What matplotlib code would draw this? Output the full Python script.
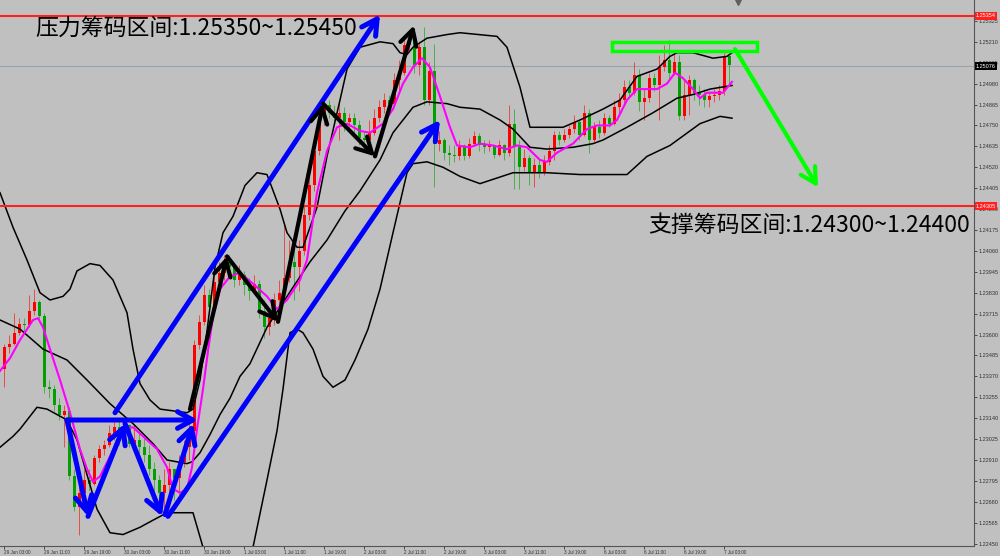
import matplotlib
matplotlib.use('Agg')
import matplotlib.pyplot as plt
from matplotlib.patches import Rectangle
from matplotlib.transforms import blended_transform_factory

plt.rcParams['font.family'] = ['Noto Sans CJK SC', 'DejaVu Sans']

# hourly candles, index 0 = 29 Jun 03:00
first_open = 1.2341
close = [1.2353, 1.2355, 1.2361, 1.2366, 1.2365, 1.2373, 1.2378, 1.2370, 1.2331, 1.2330,
         1.2321, 1.2316, 1.2318, 1.2282, 1.2265, 1.2273, 1.2280, 1.2278, 1.2292, 1.2297,
         1.2299, 1.2306, 1.2309, 1.2306, 1.2310, 1.2300, 1.2302, 1.2298, 1.2294, 1.2286,
         1.2280, 1.2273, 1.2277, 1.2286, 1.2281, 1.2290, 1.2298, 1.2307, 1.2354, 1.2367,
         1.2382, 1.2375, 1.2389, 1.2394, 1.2400, 1.2397, 1.2390, 1.2393, 1.2387, 1.2384,
         1.2388, 1.2373, 1.2364, 1.2369, 1.2379, 1.2383, 1.2391, 1.2400, 1.2397, 1.2406,
         1.2426, 1.2442, 1.2461, 1.2479, 1.2486, 1.2482, 1.2479, 1.2482, 1.2477, 1.2479,
         1.2475, 1.2468, 1.2467, 1.2471, 1.2479, 1.2485, 1.2489, 1.2487, 1.2500, 1.2504,
         1.2519, 1.2522, 1.2508, 1.2518, 1.2489, 1.2505, 1.2465, 1.2467, 1.2460, 1.2459,
         1.2458, 1.2463, 1.2458, 1.2465, 1.2469, 1.2464, 1.2463, 1.2464, 1.2459, 1.2464,
         1.2460, 1.2476, 1.2463, 1.2452, 1.2457, 1.2449, 1.2453, 1.2449, 1.2455, 1.2461,
         1.2470, 1.2467, 1.2470, 1.2473, 1.2477, 1.2470, 1.2482, 1.2467, 1.2474, 1.2471,
         1.2479, 1.2476, 1.2485, 1.2489, 1.2496, 1.2493, 1.2503, 1.2488, 1.2490, 1.2501,
         1.2497, 1.2507, 1.2511, 1.2504, 1.2510, 1.2480, 1.2492, 1.2500, 1.2493, 1.2492,
         1.2489, 1.2491, 1.2492, 1.2494, 1.2513, 1.2508]
high = [1.2355, 1.2360, 1.2372, 1.2369, 1.2369, 1.2382, 1.2385, 1.2379, 1.2372, 1.2335,
        1.2332, 1.2325, 1.2321, 1.2320, 1.2286, 1.2276, 1.2286, 1.2286, 1.2294, 1.2299,
        1.2302, 1.2310, 1.2313, 1.2313, 1.2314, 1.2311, 1.2310, 1.2306, 1.2303, 1.2299,
        1.2290, 1.2283, 1.2286, 1.2290, 1.2286, 1.2294, 1.2302, 1.2313, 1.2357, 1.2371,
        1.2387, 1.2385, 1.2395, 1.2400, 1.2404, 1.2404, 1.2400, 1.2398, 1.2395, 1.2391,
        1.2393, 1.2390, 1.2379, 1.2373, 1.2383, 1.2390, 1.2420, 1.2412, 1.2409, 1.2412,
        1.2431, 1.2448, 1.2467, 1.2486, 1.2490, 1.2489, 1.2486, 1.2488, 1.2485, 1.2482,
        1.2482, 1.2478, 1.2472, 1.2478, 1.2484, 1.2489, 1.2493, 1.2492, 1.2504, 1.2511,
        1.2525, 1.2527, 1.2523, 1.2521, 1.2529, 1.2510, 1.2520, 1.2472, 1.2468, 1.2464,
        1.2464, 1.2467, 1.2465, 1.2468, 1.2472, 1.2471, 1.2467, 1.2467, 1.2464, 1.2467,
        1.2465, 1.2486, 1.2484, 1.2467, 1.2462, 1.2459, 1.2457, 1.2456, 1.2459, 1.2464,
        1.2472, 1.2472, 1.2473, 1.2475, 1.2481, 1.2478, 1.2486, 1.2484, 1.2477, 1.2478,
        1.2482, 1.2481, 1.2489, 1.2493, 1.2500, 1.2500, 1.2510, 1.2506, 1.2495, 1.2504,
        1.2504, 1.2514, 1.2519, 1.2522, 1.2516, 1.2514, 1.2500, 1.2503, 1.2501, 1.2497,
        1.2495, 1.2493, 1.2495, 1.2497, 1.2515, 1.2514]
low = [1.2331, 1.2350, 1.2354, 1.2360, 1.2362, 1.2364, 1.2371, 1.2367, 1.2328, 1.2325,
       1.2318, 1.2313, 1.2298, 1.2280, 1.2263, 1.2250, 1.2272, 1.2274, 1.2277, 1.2290,
       1.2294, 1.2298, 1.2302, 1.2299, 1.2303, 1.2298, 1.2299, 1.2295, 1.2290, 1.2283,
       1.2274, 1.2269, 1.2261, 1.2269, 1.2269, 1.2272, 1.2287, 1.2291, 1.2306, 1.2352,
       1.2365, 1.2372, 1.2373, 1.2385, 1.2390, 1.2393, 1.2386, 1.2387, 1.2382, 1.2379,
       1.2383, 1.2369, 1.2358, 1.2360, 1.2365, 1.2373, 1.2379, 1.2389, 1.2379, 1.2384,
       1.2404, 1.2423, 1.2439, 1.2459, 1.2475, 1.2479, 1.2475, 1.2467, 1.2472, 1.2474,
       1.2470, 1.2464, 1.2461, 1.2464, 1.2470, 1.2477, 1.2482, 1.2484, 1.2486, 1.2494,
       1.2503, 1.2516, 1.2504, 1.2503, 1.2486, 1.2486, 1.2441, 1.2461, 1.2456, 1.2453,
       1.2455, 1.2456, 1.2456, 1.2457, 1.2464, 1.2461, 1.2460, 1.2461, 1.2457, 1.2458,
       1.2456, 1.2458, 1.2440, 1.2440, 1.2450, 1.2442, 1.2441, 1.2446, 1.2448, 1.2453,
       1.2456, 1.2464, 1.2466, 1.2468, 1.2471, 1.2467, 1.2469, 1.2460, 1.2466, 1.2468,
       1.2470, 1.2474, 1.2475, 1.2482, 1.2487, 1.2491, 1.2492, 1.2483, 1.2478, 1.2488,
       1.2494, 1.2478, 1.2505, 1.2500, 1.2503, 1.2478, 1.2478, 1.2481, 1.2489, 1.2486,
       1.2485, 1.2485, 1.2488, 1.2489, 1.2492, 1.2497]

# bollinger lines (bar index, price)
upper_x = [-0.8, 1.8, 4.6, 7.2, 9.2, 11.8, 13.2, 14.6, 17.2, 19.2, 21.8, 24.6, 25.8, 27.2, 29.2,
           31.2, 36.6, 37.8, 39.2, 40.6, 42.2, 43.8, 45.8, 48.2, 50.6, 52.6, 55.2, 56.6, 58.6,
           59.8, 62.6, 64.6, 67.2, 68.6, 71.2, 75.2, 77.8, 79.2, 80.6, 81.8, 84.6, 88.6, 91.2,
           98.6, 100.6, 103.2, 105.2, 111.8, 115.2, 119.8, 123.2, 126.6, 130.6, 133.2, 134.6,
           137.8, 141.8, 144.6, 145.6]
upper_y = [1.2438, 1.2419, 1.2401, 1.2383, 1.2379, 1.2381, 1.2385, 1.2395, 1.2399, 1.2398,
           1.2390, 1.2372, 1.2352, 1.2333, 1.2324, 1.2319, 1.2317, 1.2319, 1.2335, 1.2362,
           1.2397, 1.2416, 1.2425, 1.2442, 1.2449, 1.2448, 1.2429, 1.2416, 1.2408, 1.2408,
           1.2430, 1.2458, 1.2489, 1.2506, 1.2518, 1.2521, 1.2520, 1.2515, 1.2514, 1.2518,
           1.2523, 1.2525, 1.2526, 1.2524, 1.2518, 1.2496, 1.2474, 1.2474, 1.2478, 1.2484,
           1.2489, 1.2502, 1.2506, 1.2513, 1.2515, 1.2515, 1.2512, 1.2513, 1.2515]
mid_x = [-0.8, 3.2, 7.8, 12.6, 16.6, 21.2, 25.8, 29.8, 32.6, 36.6, 37.6, 39.2, 41.2, 43.2, 45.2,
         47.2, 49.2, 52.6, 55.2, 57.8, 61.2, 64.6, 68.2, 71.2, 75.2, 77.8, 81.8, 84.6, 88.6,
         91.2, 95.2, 99.2, 101.8, 105.2, 108.6, 113.8, 117.8, 119.8, 124.6, 129.8, 134.6,
         137.8, 141.2, 145.6]
mid_y = [1.2368, 1.2363, 1.2352, 1.2346, 1.2335, 1.2322, 1.2311, 1.2300, 1.2291, 1.2289,
         1.2290, 1.2295, 1.2305, 1.2316, 1.2325, 1.2337, 1.2344, 1.2364, 1.2375, 1.2386,
         1.2400, 1.2412, 1.2428, 1.2439, 1.2456, 1.2471, 1.2485, 1.2488, 1.2487, 1.2485,
         1.2484, 1.2478, 1.2473, 1.2463, 1.2462, 1.2463, 1.2465, 1.2467, 1.2474, 1.2482,
         1.2490, 1.2492, 1.2495, 1.2497]
lower_x = [-0.8, 1.8, 3.2, 6.6, 8.6, 12.6, 14.6, 16.6, 18.6, 21.2, 23.8, 27.2, 29.2, 32.6, 36.6,
           37.8, 39.8, 41.2, 45.2, 47.2, 49.8, 52.6, 54.6, 55.8, 57.2, 58.6, 59.8, 61.8, 63.8,
           65.8, 68.2, 70.2, 72.8, 75.2, 77.8, 80.6, 81.8, 84.6, 87.8, 91.2, 95.2, 101.8,
           108.6, 115.2, 124.6, 128.6, 133.2, 139.2, 143.2, 145.6]
lower_y = [1.2298, 1.2304, 1.2308, 1.2320, 1.2319, 1.2313, 1.2302, 1.2283, 1.2264, 1.2251,
           1.2250, 1.2254, 1.2257, 1.2262, 1.2262, 1.2262, 1.2243, 1.2231, 1.2225, 1.2236,
           1.2243, 1.2280, 1.2307, 1.2330, 1.2361, 1.2363, 1.2361, 1.2352, 1.2337, 1.2331,
           1.2335, 1.2346, 1.2363, 1.2385, 1.2416, 1.2449, 1.2454, 1.2455, 1.2452, 1.2447,
           1.2443, 1.2449, 1.2449, 1.2448, 1.2448, 1.2458, 1.2464, 1.2476, 1.2480, 1.2479]
ma_x = [-0.8, 1.2, 3.2, 5.8, 6.8, 7.8, 9.2, 11.2, 13.2, 15.2, 16.6, 17.8, 19.2, 21.2, 23.8, 25.8,
        27.8, 30.6, 32.6, 33.8, 35.2, 36.6, 37.6, 38.6, 39.8, 40.8, 41.8, 43.2, 45.2, 47.2,
        49.8, 52.6, 54.6, 56.6, 59.2, 60.6, 62.6, 64.6, 66.6, 68.6, 71.2, 73.2, 75.8, 77.8,
        79.8, 81.8, 83.6, 85.2, 87.2, 89.2, 90.6, 93.2, 95.2, 97.8, 100.6, 102.6, 104.6,
        107.2, 108.6, 110.6, 113.8, 116.6, 118.6, 121.2, 122.6, 124.6, 126.6, 130.6, 132.6,
        134.2, 135.8, 137.8, 139.2, 140.6, 142.6, 143.8, 145.6]
ma_y = [1.2340, 1.2347, 1.2357, 1.2368, 1.2369, 1.2364, 1.2352, 1.2335, 1.2317, 1.2297, 1.2286,
        1.2279, 1.2282, 1.2293, 1.2308, 1.2309, 1.2304, 1.2297, 1.2287, 1.2275, 1.2273, 1.2275,
        1.2287, 1.2308, 1.2330, 1.2351, 1.2370, 1.2385, 1.2392, 1.2394, 1.2388, 1.2381, 1.2374,
        1.2379, 1.2390, 1.2401, 1.2438, 1.2461, 1.2474, 1.2476, 1.2472, 1.2471, 1.2476, 1.2484,
        1.2498, 1.2507, 1.2512, 1.2507, 1.2491, 1.2474, 1.2464, 1.2463, 1.2465, 1.2464, 1.2462,
        1.2464, 1.2463, 1.2456, 1.2455, 1.2460, 1.2465, 1.2473, 1.2475, 1.2475, 1.2478, 1.2489,
        1.2495, 1.2495, 1.2498, 1.2504, 1.2501, 1.2495, 1.2490, 1.2493, 1.2493, 1.2493, 1.2499]

resist_line = 1.25354
support_line = 1.24305
last_price = 1.25076
y_ticks = [1.22450 + 0.00115 * k for k in range(26)]
x_tick_pos = list(range(0, 145, 8))
x_tick_labels = ['29 Jun 03:00', '29 Jun 11:00', '29 Jun 19:00', '30 Jun 03:00', '30 Jun 11:00',
                 '30 Jun 19:00', '1 Jul 03:00', '1 Jul 11:00', '1 Jul 19:00', '2 Jul 03:00',
                 '2 Jul 11:00', '2 Jul 19:00', '3 Jul 03:00', '3 Jul 11:00', '3 Jul 19:00',
                 '6 Jul 03:00', '6 Jul 11:00', '6 Jul 19:00', '7 Jul 03:00']
shift_mark = 146.8

# hand drawn arrows (start, end) in bar index / price
blue_arrows = [((22.2, 1.2317), (75.2, 1.2536)),
               ((32.8, 1.2260), (87.2, 1.2478)),
               ((12.6, 1.2313), (38.8, 1.2313)),
               ((12.6, 1.2313), (16.8, 1.2260)),
               ((16.8, 1.2260), (24.2, 1.2311)),
               ((24.2, 1.2311), (31.6, 1.2260)),
               ((32.2, 1.2261), (37.8, 1.2311))]
black_arrows = [((37.2, 1.2319), (44.6, 1.2403)),
                ((44.6, 1.2403), (54.8, 1.2367)),
                ((54.8, 1.2367), (63.8, 1.2487)),
                ((63.8, 1.2487), (74.2, 1.2458)),
                ((74.2, 1.2458), (82.0, 1.2530))]
green_arrow = ((146.2, 1.2517), (162.8, 1.2441))
green_box = (121.6, 150.6, 1.2516, 1.2521)

bg = '#c0c0c0'
fig = plt.figure(figsize=(10, 5.56), dpi=100, facecolor=bg)
ax = fig.add_axes([0, 10 / 556, 974 / 1000, 546 / 556], facecolor=bg)
ax.set_xlim(-0.8, 194.0)
ax.set_ylim(1.22437, 1.2544)

opens = [first_open] + close[:-1]
for i in range(len(close)):
    o, c = opens[i], close[i]
    col = '#ff0000' if c >= o else '#00a000'
    ax.vlines(i, min(low[i], o, c), max(high[i], o, c), color=col, lw=0.7, alpha=0.6, zorder=2)
    ax.add_patch(Rectangle((i - 0.3, min(o, c)), 0.6, max(abs(c - o), 0.00004),
                           facecolor=col, edgecolor='none', zorder=3))

ax.plot(upper_x, upper_y, color='black', lw=1.1, zorder=4)
ax.plot(mid_x, mid_y, color='black', lw=1.1, zorder=4)
ax.plot(lower_x, lower_y, color='black', lw=1.1, zorder=4)
ax.plot(ma_x, ma_y, color='#ff00ff', lw=1.5, zorder=5)

ax.axhline(last_price, color='#9aa3ad', lw=0.8, zorder=1)
ax.axhline(resist_line, color='#ff2020', lw=1.5, zorder=6)
ax.axhline(support_line, color='#ff2020', lw=1.5, zorder=6)


def draw_arrow(p0, p1, col, lw):
    ax.annotate('', xy=p1, xytext=p0, zorder=8,
                arrowprops=dict(arrowstyle='->,head_length=0.55,head_width=0.3', color=col,
                                lw=lw, mutation_scale=20, shrinkA=0, shrinkB=0))


for a, b in blue_arrows:
    draw_arrow(a, b, '#0000ff', 3.6)
for a, b in black_arrows:
    draw_arrow(a, b, 'black', 3.0)
draw_arrow(green_arrow[0], green_arrow[1], '#00ff00', 3.0)
gx0, gx1, gy0, gy1 = green_box
ax.add_patch(Rectangle((gx0, gy0), gx1 - gx0, gy1 - gy0, fill=False, edgecolor='#00ff00',
                       lw=2.5, zorder=8))

# chart shift marker at the top edge
trx = blended_transform_factory(ax.transData, ax.transAxes)
ax.plot([shift_mark], [0.996], marker='v', ms=4, color='#606060', transform=trx,
        clip_on=False, zorder=9)

# axes styling
for s in ['top', 'left', 'bottom']:
    ax.spines[s].set_visible(s == 'bottom')
ax.spines['right'].set_color('#555555')
ax.spines['bottom'].set_color('#555555')
ax.yaxis.tick_right()
ax.set_yticks(y_ticks)
ax.set_yticklabels(['%.5f' % v for v in y_ticks], family='Liberation Sans', fontsize=4,
                   color='#333333')
ax.tick_params(axis='y', length=2, width=0.6, pad=1.5, colors='#333333')
ax.set_xticks(x_tick_pos)
ax.set_xticklabels(x_tick_labels, family='Liberation Sans', fontsize=3.3, color='#333333',
                   ha='left')
ax.tick_params(axis='x', length=2, width=0.6, pad=1, colors='#333333')

tr = blended_transform_factory(ax.transAxes, ax.transData)
for val, fc in [(resist_line, '#ff2020'), (support_line, '#ff2020'), (last_price, 'black')]:
    ax.text(1.002, val, '%.5f' % val, transform=tr, fontsize=4, family='Liberation Sans',
            color='white', va='center', ha='left', zorder=10, clip_on=False,
            bbox=dict(boxstyle='square,pad=0.25', facecolor=fc, edgecolor='none'))

fig.text(0.035, 1 - 28 / 556, '压力筹码区间:1.25350~1.25450', fontsize=16.5, color='black',
         va='center', ha='left')
fig.text(0.970, 1 - 225 / 556, '支撑筹码区间:1.24300~1.24400', fontsize=16.5, color='black',
         va='center', ha='right')

fig.savefig('out.png', dpi=100, facecolor=bg)
